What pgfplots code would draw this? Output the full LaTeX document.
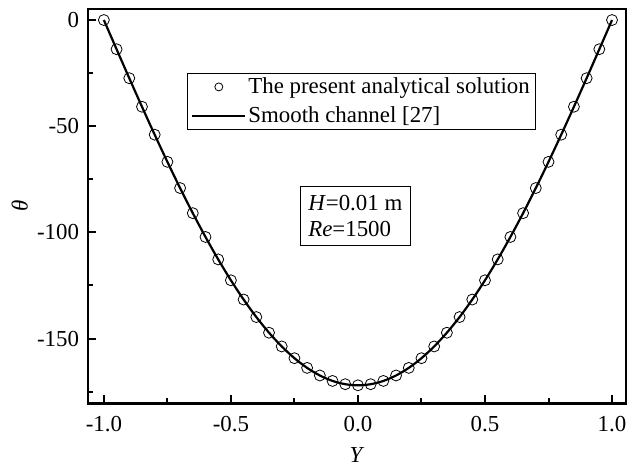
\documentclass[border=0pt]{standalone}
\usepackage{fontspec}
\setmainfont{Liberation Serif}
\usepackage{pgfplots}
\pgfplotsset{compat=1.18}
\usepackage{pgfplotstable}
\pgfplotstableread{
Y theta
-1.00 0.00
-0.95 -13.74
-0.90 -27.39
-0.85 -40.83
-0.80 -53.99
-0.75 -66.78
-0.70 -79.12
-0.65 -90.94
-0.60 -102.15
-0.55 -112.71
-0.50 -122.55
-0.45 -131.61
-0.40 -139.86
-0.35 -147.23
-0.30 -153.70
-0.25 -159.23
-0.20 -163.80
-0.15 -167.37
-0.10 -169.94
-0.05 -171.48
0.00 -172.00
0.05 -171.48
0.10 -169.94
0.15 -167.37
0.20 -163.80
0.25 -159.23
0.30 -153.70
0.35 -147.23
0.40 -139.86
0.45 -131.61
0.50 -122.55
0.55 -112.71
0.60 -102.15
0.65 -90.94
0.70 -79.12
0.75 -66.78
0.80 -53.99
0.85 -40.83
0.90 -27.39
0.95 -13.74
1.00 0.00
}\profile
\begin{document}
\fontsize{23}{27}\selectfont
\begin{tikzpicture}
\begin{axis}[
  width=539bp, height=395bp, scale only axis,
  xmin=-1.063, xmax=1.055, ymin=-180.5, ymax=5.2,
  axis line style={line width=2.4bp},
  tick pos=left, tick align=inside,
  major tick length=8bp, minor tick length=5bp,
  every tick/.style={line width=2bp, black},
  xtick={-1,-0.5,0,0.5,1},
  xticklabels={-1.0,-0.5,0.0,0.5,1.0},
  minor xtick={-0.75,-0.25,0.25,0.75},
  ytick={-150,-100,-50,0},
  yticklabels={-150,-100,-50,0},
  minor ytick={-175,-125,-75,-25},
  tick label style={font=\fontsize{23}{27}\selectfont},
  xticklabel style={yshift=-5bp},
  yticklabel style={xshift=-1bp},
  xlabel={\textit{Y}}, ylabel={\textit{θ}},
  label style={font=\fontsize{23}{27}\selectfont, inner sep=0pt},
  xlabel style={at={(axis description cs:0.5,0)}, anchor=north, yshift=-44bp},
  ylabel style={at={(axis description cs:0,0.5)}, anchor=south, yshift=60bp},
  legend style={at={(axis description cs:0.184,0.838)}, anchor=north west,
    draw=black, line width=0.8bp, font=\fontsize{23}{27}\selectfont,
    inner xsep=4bp, inner ysep=2bp, row sep=6bp, cells={anchor=west}},
  legend cell align=left,
]
\addplot[only marks, mark=o, mark size=5.5bp, mark options={line width=0.8bp, black},
  legend image code/.code={\path[draw=none] (0,0) -- (53bp,0); \draw[line width=0.8bp] (26.5bp,0) circle (4bp);}]
  table[x=Y,y=theta]{\profile};
\addlegendentry{The present analytical solution}
\addplot[black, line width=2.2bp, smooth,
  legend image code/.code={\draw[line width=2.2bp] (0,0) -- (53bp,0);}]
  table[x=Y,y=theta]{\profile};
\addlegendentry{Smooth channel [27]}
\node[draw=black, line width=0.8bp, align=left, inner xsep=8bp, inner ysep=8bp, font=\fontsize{23}{27}\selectfont] at (axis description cs:0.497,0.475) {\textit{H}=0.01 m\\\textit{Re}=1500};
\end{axis}
\pgfresetboundingbox
\path ([xshift=-88bp,yshift=-63bp]current axis.south west) rectangle ([xshift=2bp,yshift=9bp]current axis.north east);
\end{tikzpicture}
\end{document}
